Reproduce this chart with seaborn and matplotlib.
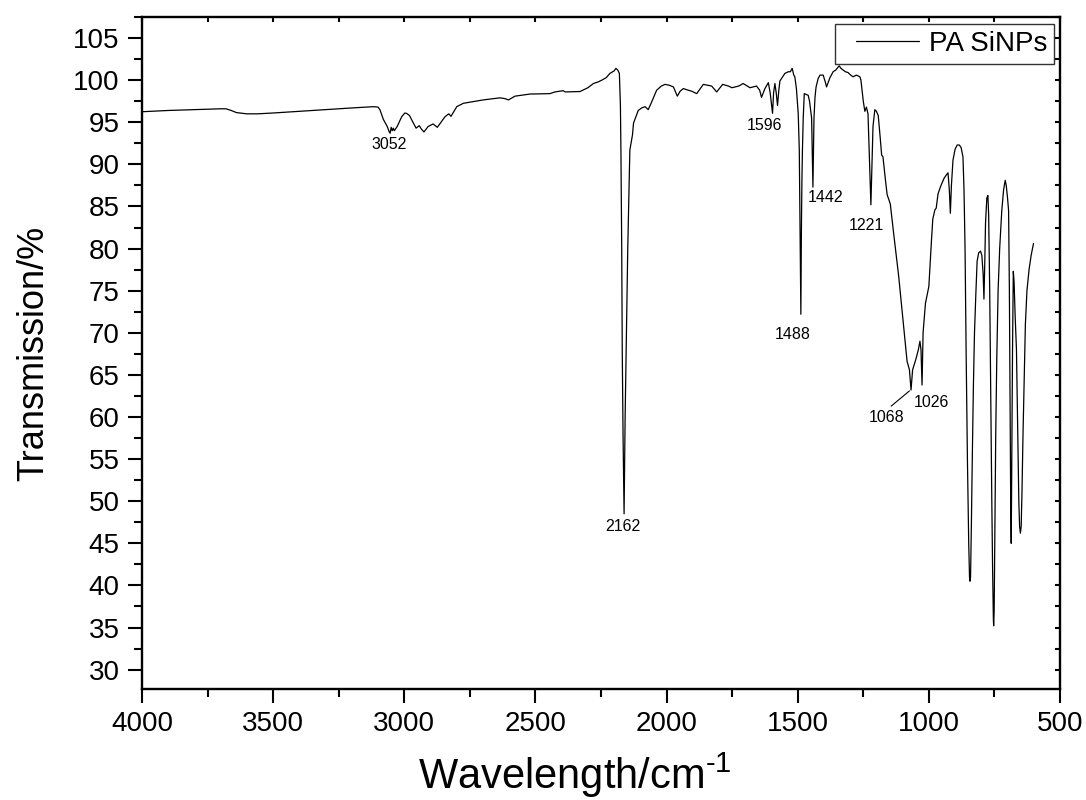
import matplotlib
matplotlib.use("Agg")
import matplotlib.pyplot as plt
from matplotlib.ticker import MultipleLocator
from matplotlib.lines import Line2D
from matplotlib.legend_handler import HandlerLine2D
import seaborn as sns
import pandas as pd

wavenumber = [
    4000, 3900, 3800, 3700, 3680, 3660, 3640, 3600, 3560, 3500, 3400, 3300, 3200, 3118, 3100,
    3093, 3080, 3065, 3058, 3054, 3050, 3046, 3042, 3038, 3027, 3010, 2998, 2991, 2980, 2972,
    2955, 2943, 2935, 2925, 2909, 2890, 2874, 2860, 2845, 2835, 2830, 2822, 2800, 2775, 2700,
    2635, 2615, 2603, 2578, 2521, 2445, 2426, 2394, 2387, 2330, 2300, 2279, 2260, 2247, 2230,
    2216, 2200, 2193, 2186, 2180, 2176, 2174, 2171, 2169, 2166, 2162, 2158, 2154, 2148, 2143,
    2140, 2136, 2130, 2126, 2115, 2108, 2095, 2082, 2070, 2057, 2038, 2020, 2006, 1990, 1974,
    1959, 1948, 1936, 1917, 1905, 1885, 1860, 1828, 1809, 1786, 1764, 1751, 1725, 1708, 1682,
    1657, 1645, 1638, 1625, 1612, 1605, 1596, 1592, 1587, 1582, 1577, 1572, 1568, 1549, 1536,
    1528, 1521, 1515, 1511, 1505, 1498, 1494, 1491, 1488, 1486, 1484, 1482, 1479, 1475, 1468,
    1460, 1455, 1451, 1447, 1442, 1438, 1434, 1430, 1422, 1415, 1403, 1395, 1390, 1377, 1365,
    1355, 1342, 1335, 1327, 1318, 1308, 1298, 1289, 1276, 1263, 1259, 1250, 1244, 1238, 1232,
    1227, 1221, 1217, 1213, 1206, 1200, 1193, 1185, 1180, 1175, 1165, 1159, 1147, 1135, 1115,
    1096, 1083, 1074, 1068, 1062, 1050, 1040, 1034, 1030, 1026, 1022, 1013, 1000, 990, 985,
    977, 972, 965, 955, 942, 932, 927, 922, 918, 914, 908, 900, 892, 884, 877,
    870, 866, 862, 858, 853, 848, 845, 843, 841, 838, 834, 830, 826, 821, 816,
    810, 803, 798, 793, 790, 787, 784, 779, 775, 772, 768, 764, 760, 757, 754,
    753, 751, 748, 745, 741, 736, 730, 722, 715, 709, 705, 700, 696, 693, 690,
    688, 686, 684, 681, 678, 675, 671, 666, 661, 657, 654, 651, 648, 645, 641,
    637, 632, 626, 618, 610, 601,
]

transmission = [
    96.25, 96.4, 96.5, 96.6, 96.6, 96.4, 96.15, 96.0, 96.0, 96.1, 96.3, 96.5, 96.7, 96.85, 96.8,
    96.5, 95.35, 94.5, 93.9, 93.7, 94.4, 94.0, 94.3, 94.0, 94.5, 95.65, 96.1, 96.05, 95.8, 95.3,
    94.3, 94.6, 94.2, 93.85, 94.5, 94.8, 94.4, 95.0, 95.65, 95.9, 96.0, 95.7, 96.85, 97.25, 97.65,
    97.9, 97.8, 97.65, 98.1, 98.35, 98.4, 98.6, 98.75, 98.6, 98.65, 99.1, 99.6, 99.8, 100.0, 100.3,
    100.8, 101.1, 101.4, 101.2, 100.8, 97.0, 91.5, 80.0, 68.0, 58.0, 48.5, 60.0, 68.0, 80.0, 87.0,
    91.7, 92.4, 93.5, 94.9, 95.8, 96.4, 96.7, 96.85, 96.5, 97.4, 98.8, 99.3, 99.5, 99.4, 99.2,
    98.1, 98.7, 99.0, 98.8, 98.7, 98.4, 99.5, 99.3, 98.6, 99.5, 99.3, 99.1, 99.3, 99.6, 99.1,
    99.3, 98.8, 97.96, 99.0, 99.7, 98.5, 96.06, 98.5, 99.6, 98.5, 97.0, 98.8, 99.9, 100.8, 101.0,
    101.0, 101.4, 100.6, 100.4, 99.0, 96.0, 91.7, 82.0, 72.2, 82.0, 88.0, 91.7, 95.5, 98.4, 98.3,
    98.2, 97.5, 96.5, 95.5, 87.3, 95.5, 98.0, 99.2, 100.2, 100.6, 100.6, 99.8, 99.2, 100.3, 101.0,
    101.2, 101.7, 101.4, 101.2, 101.0, 100.9, 100.6, 100.4, 100.6, 100.4, 100.0, 97.5, 96.3, 96.8, 96.0,
    91.0, 85.2, 90.0, 94.5, 96.5, 96.3, 95.8, 93.0, 91.1, 90.9, 88.0, 86.4, 85.3, 82.0, 76.7,
    70.7, 66.6, 65.6, 63.2, 65.6, 66.8, 68.0, 69.0, 68.0, 63.8, 70.0, 73.5, 75.5, 81.0, 83.5,
    84.6, 84.8, 86.5, 87.4, 88.35, 88.8, 89.0, 87.0, 84.2, 87.5, 90.5, 91.8, 92.3, 92.3, 92.0,
    90.9, 87.0, 80.0, 68.0, 55.0, 45.0, 41.0, 40.5, 41.0, 47.0, 56.0, 64.0, 70.0, 74.5, 78.5,
    79.5, 79.7, 79.2, 77.0, 74.0, 78.0, 83.0, 86.0, 86.3, 84.0, 75.0, 62.0, 50.0, 42.0, 36.0,
    35.2, 37.0, 47.0, 58.0, 67.0, 75.0, 80.0, 84.5, 87.0, 88.1, 87.5, 86.0, 84.5, 75.0, 60.0,
    50.0, 45.0, 55.0, 68.0, 77.3, 76.0, 72.0, 68.0, 58.0, 50.0, 47.0, 46.2, 47.0, 51.0, 58.0,
    64.0, 71.0, 75.0, 77.5, 79.2, 80.6,
]

peak_labels = ["3052", "2162", "1596", "1442", "1221", "1488", "1068", "1026"]
label_x = [3058, 2166, 1625, 1392, 1240, 1518, 1163, 992]
label_y = [92.4, 47.0, 94.6, 86.1, 82.7, 69.8, 59.9, 61.7]
leader_label = "1068"
leader_target = (1074, 63.1)

series_name = "PA SiNPs"
x_label = "Wavelength/cm$^{\\text{-1}}$"
y_label = "Transmission/%"

sns.set_style("ticks")
plt.rcParams["font.family"] = ["Liberation Sans", "DejaVu Sans"]
plt.rcParams["mathtext.default"] = "regular"
plt.rcParams["mathtext.fontset"] = "custom"
plt.rcParams["mathtext.rm"] = "Liberation Sans"
plt.rcParams["mathtext.it"] = "Liberation Sans"
plt.rcParams["mathtext.bf"] = "Liberation Sans"
plt.rcParams["text.color"] = "black"
plt.rcParams["axes.labelcolor"] = "black"
plt.rcParams["xtick.color"] = "black"
plt.rcParams["ytick.color"] = "black"

df = pd.DataFrame({"wavenumber": wavenumber, "transmission": transmission})

fig = plt.figure(figsize=(10.86, 8.0), dpi=100)
ax = fig.add_axes([142 / 1086, 1 - 689 / 800, (1060 - 142) / 1086, (689 - 17) / 800])

sns.lineplot(data=df, x="wavenumber", y="transmission", ax=ax, color="black",
             linewidth=0.9, sort=False, estimator=None, label=series_name)

ax.set_xlim(4000, 500)
ax.set_ylim(27.7, 107.5)

ax.xaxis.set_major_locator(MultipleLocator(500))
ax.xaxis.set_minor_locator(MultipleLocator(250))
ax.yaxis.set_major_locator(MultipleLocator(5))
ax.yaxis.set_minor_locator(MultipleLocator(2.5))

for side in ["left", "right", "top", "bottom"]:
    ax.spines[side].set_visible(True)
    ax.spines[side].set_linewidth(1.7)
    ax.spines[side].set_color("black")

ax.tick_params(axis="both", which="major", direction="out", length=10, width=1.5,
               labelsize=20, pad=6, colors="black")
ax.tick_params(axis="both", which="minor", direction="out", length=5.5, width=1.5)
# small inward ticks on the mirrored (top / right) spines
ax.tick_params(axis="x", which="both", top=True)
ax.tick_params(axis="y", which="both", right=True)
for t in ax.xaxis.get_major_ticks() + ax.xaxis.get_minor_ticks():
    t.tick2line.set_marker(3)  # TICKDOWN (inward for top)
    t.tick2line.set_markersize(3.5)
for t in ax.yaxis.get_major_ticks() + ax.yaxis.get_minor_ticks():
    t.tick2line.set_marker(0)  # TICKLEFT (inward for right)
    t.tick2line.set_markersize(3.5)

ax.set_xlabel(x_label, fontsize=30)
ax.xaxis.set_label_coords((575 - 142) / 918, -0.092)
ax.set_ylabel(y_label, fontsize=26, labelpad=16)

for lab, lx, ly in zip(peak_labels, label_x, label_y):
    if lab == leader_label:
        ax.annotate(lab, xy=leader_target, xytext=(lx, ly), fontsize=11.5,
                    ha="center", va="center", color="black",
                    arrowprops=dict(arrowstyle="-", lw=0.8, color="black",
                                    relpos=(0.5, 1.0), shrinkA=1, shrinkB=0))
    else:
        ax.text(lx, ly, lab, fontsize=11.5, ha="center", va="center", color="black")

leg = ax.legend(loc="upper right", bbox_to_anchor=(0.9935, 0.99), borderaxespad=0,
                fontsize=20, frameon=True, fancybox=False, handlelength=2.77,
                handletextpad=0.36, borderpad=0.25,
                handler_map={Line2D: HandlerLine2D(xpad=0.5)})
leg.get_frame().set_edgecolor("black")
leg.get_frame().set_linewidth(1.0)
for line in leg.get_lines():
    line.set_linewidth(0.9)
for txt in leg.get_texts():
    txt.set_color("black")

fig.savefig("out.png", dpi=100)
